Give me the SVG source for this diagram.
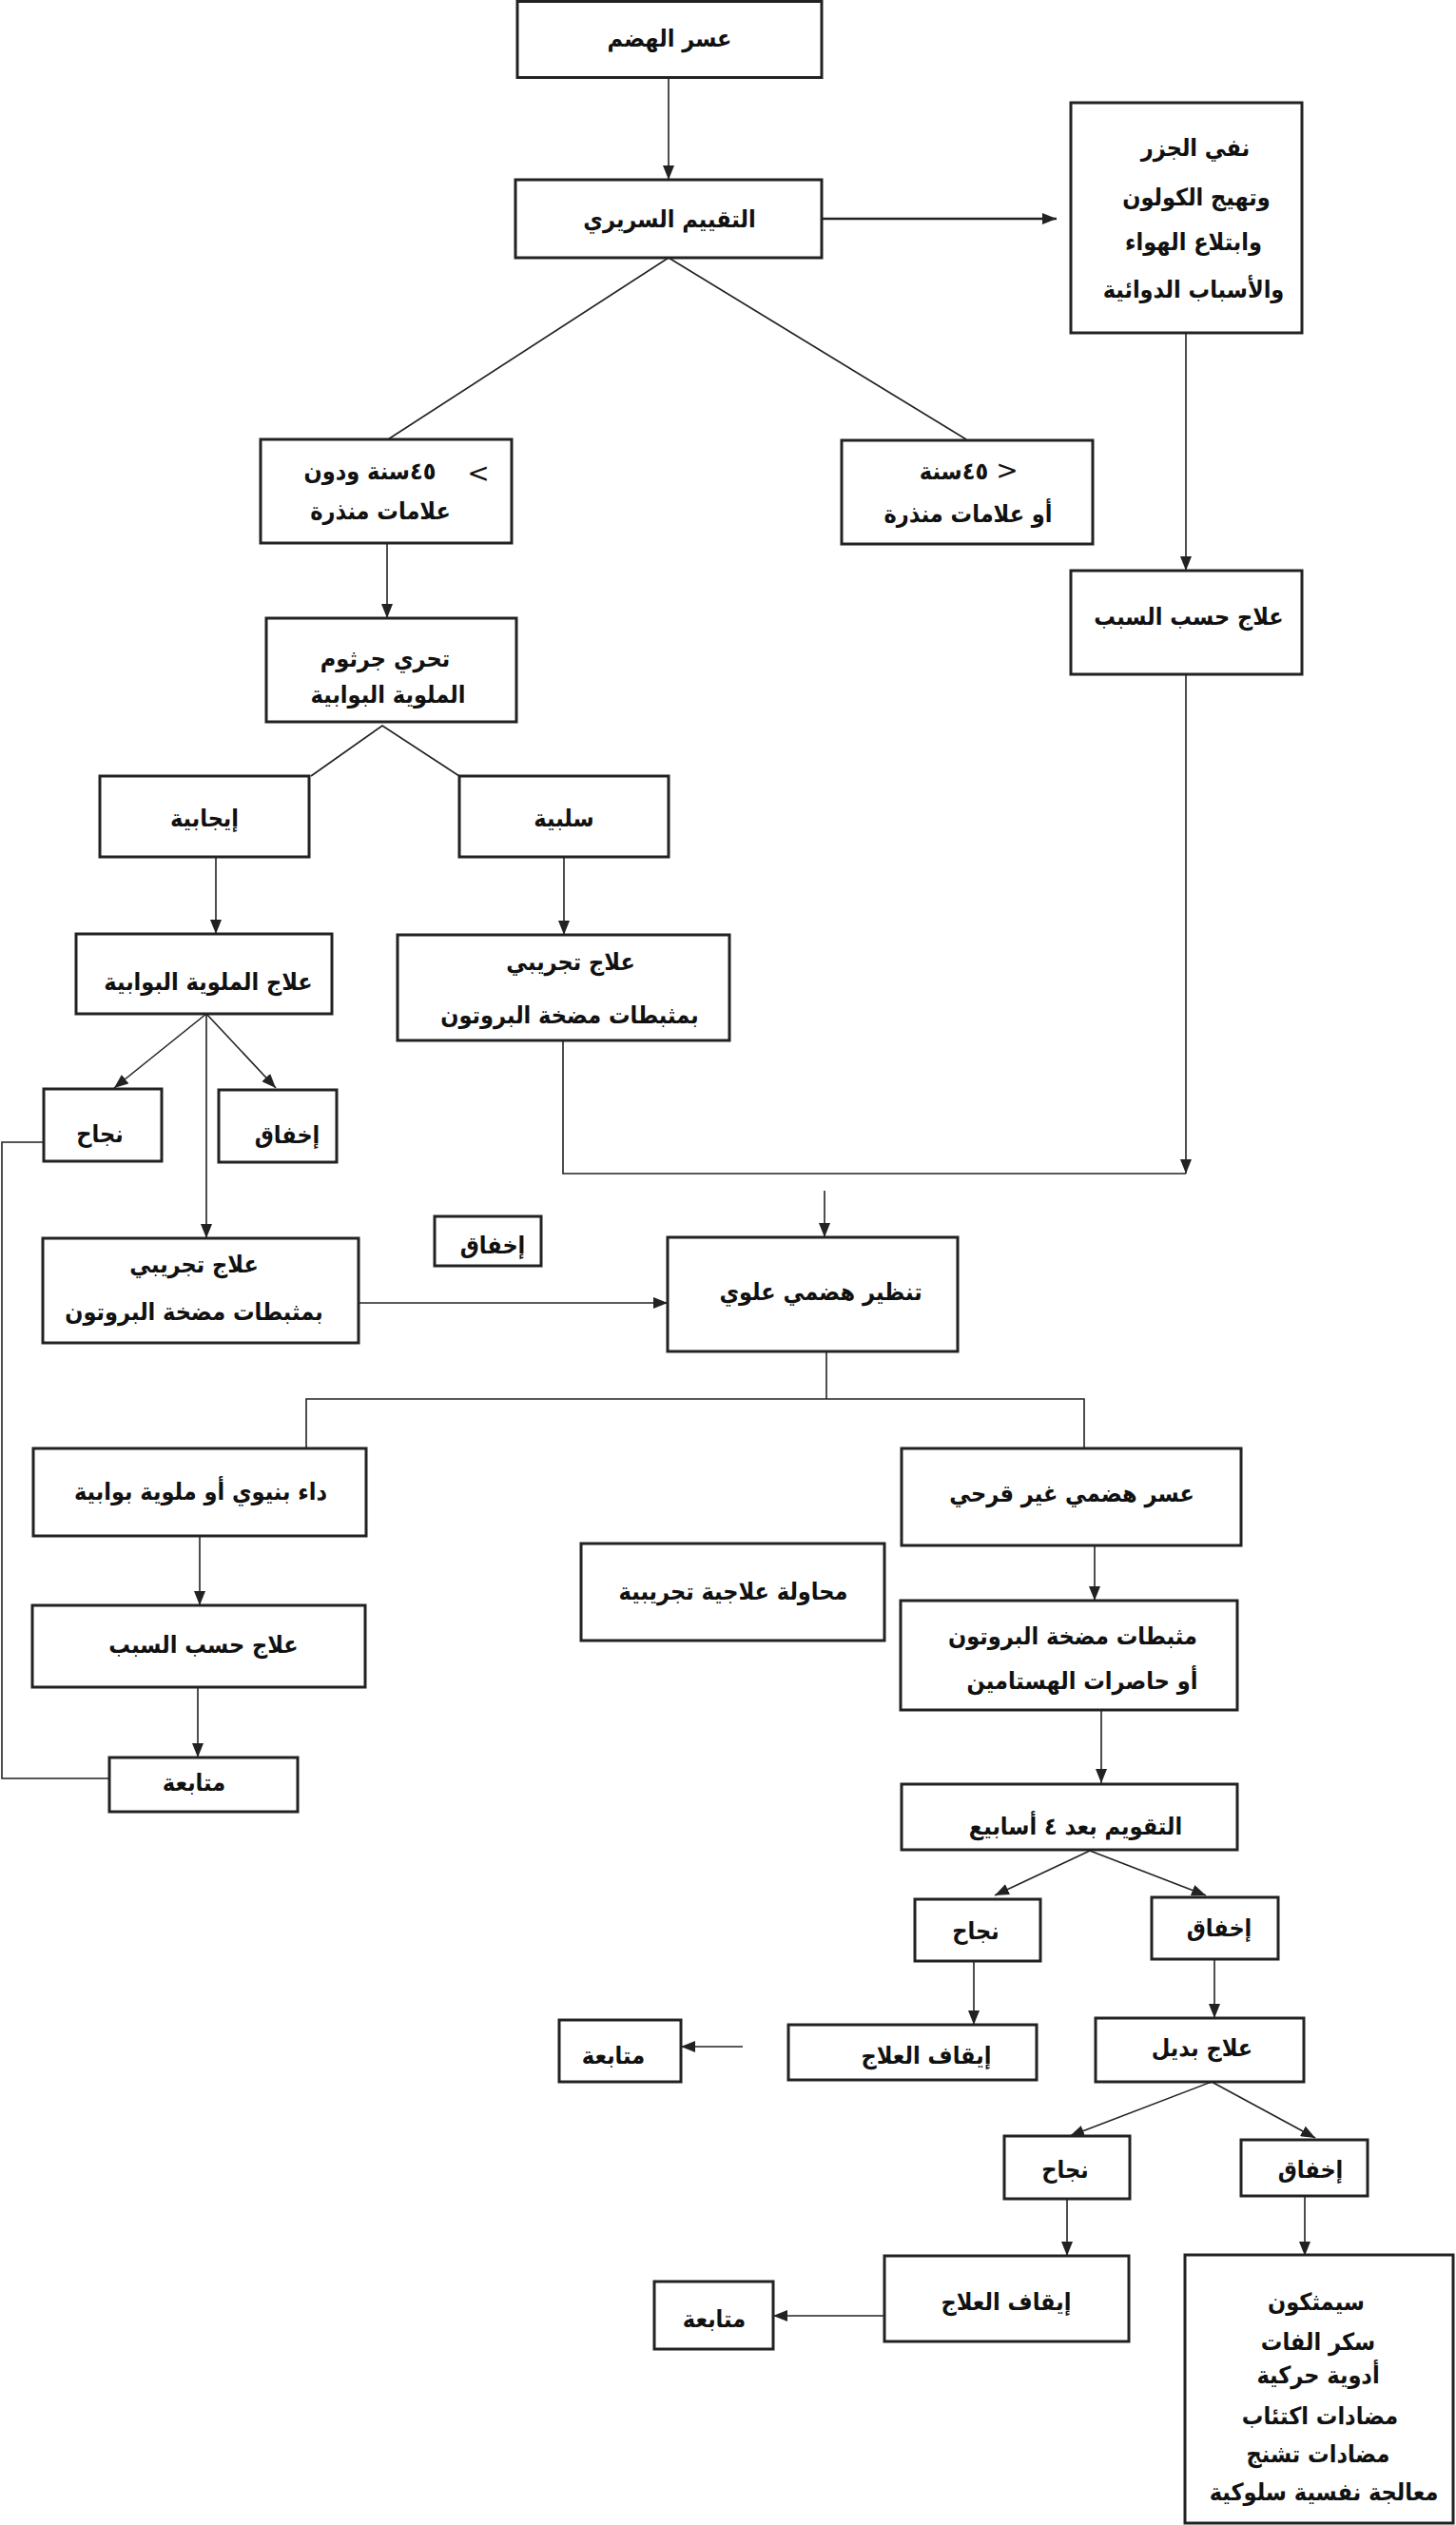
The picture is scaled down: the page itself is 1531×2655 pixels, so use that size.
<svg xmlns="http://www.w3.org/2000/svg" width="1531" height="2655" viewBox="0 0 1531 2655">
<style>
.box{fill:#fff;stroke:#222;stroke-width:3}
.c{fill:none;stroke:#222;stroke-width:1.6}
.t{font-family:"DejaVu Sans Condensed","DejaVu Sans",sans-serif;font-weight:bold;font-size:25px;fill:#111;text-anchor:middle;direction:rtl}
.s{font-family:"DejaVu Sans","Liberation Sans",sans-serif;font-size:28px;fill:#111;text-anchor:middle;direction:ltr}
</style>
<defs>
<marker id="ah" markerUnits="userSpaceOnUse" markerWidth="16" markerHeight="12" refX="15" refY="6" orient="auto">
<path d="M0,0 L15,6 L0,12 z" fill="#222"/>
</marker>
</defs>
<rect width="1531" height="2655" fill="#fff"/>
<g id="connectors">
<line class="c" x1="703" y1="81" x2="703" y2="189" marker-end="url(#ah)"/>
<line class="c" x1="864" y1="230" x2="1111" y2="230" marker-end="url(#ah)" style="stroke-width:2.5"/>
<polyline class="c" points="408,462 703,271 1016,462"/>
<line class="c" x1="1247" y1="350" x2="1247" y2="600" marker-end="url(#ah)"/>
<line class="c" x1="407" y1="571" x2="407" y2="650" marker-end="url(#ah)"/>
<polyline class="c" points="327,816 402,763 483,816"/>
<line class="c" x1="227" y1="901" x2="227" y2="982" marker-end="url(#ah)"/>
<line class="c" x1="593" y1="901" x2="593" y2="983" marker-end="url(#ah)"/>
<line class="c" x1="217" y1="1066" x2="120" y2="1144" marker-end="url(#ah)"/>
<line class="c" x1="217" y1="1066" x2="290" y2="1144" marker-end="url(#ah)"/>
<line class="c" x1="217" y1="1066" x2="217" y2="1302" marker-end="url(#ah)"/>
<line class="c" x1="1247" y1="709" x2="1247" y2="1234" marker-end="url(#ah)"/>
<polyline class="c" points="592,1094 592,1234 1247,1234"/>
<line class="c" x1="867" y1="1252" x2="867" y2="1301" marker-end="url(#ah)"/>
<line class="c" x1="377" y1="1370" x2="702" y2="1370" marker-end="url(#ah)"/>
<polyline class="c" points="46,1201 2,1201 2,1870 115,1870"/>
<polyline class="c" points="869,1421 869,1471"/>
<polyline class="c" points="322,1523 322,1471 1140,1471 1140,1523"/>
<line class="c" x1="210" y1="1615" x2="210" y2="1688" marker-end="url(#ah)"/>
<line class="c" x1="208" y1="1774" x2="208" y2="1848" marker-end="url(#ah)"/>
<line class="c" x1="1151" y1="1625" x2="1151" y2="1683" marker-end="url(#ah)"/>
<line class="c" x1="1158" y1="1798" x2="1158" y2="1875" marker-end="url(#ah)"/>
<line class="c" x1="1146" y1="1946" x2="1046" y2="1993" marker-end="url(#ah)"/>
<line class="c" x1="1146" y1="1946" x2="1268" y2="1993" marker-end="url(#ah)"/>
<line class="c" x1="1024" y1="2062" x2="1024" y2="2129" marker-end="url(#ah)"/>
<line class="c" x1="1277" y1="2060" x2="1277" y2="2122" marker-end="url(#ah)"/>
<line class="c" x1="781" y1="2152" x2="716" y2="2152" marker-end="url(#ah)"/>
<line class="c" x1="1274" y1="2189" x2="1125" y2="2246" marker-end="url(#ah)"/>
<line class="c" x1="1274" y1="2189" x2="1383" y2="2248" marker-end="url(#ah)"/>
<line class="c" x1="1122" y1="2312" x2="1122" y2="2372" marker-end="url(#ah)"/>
<line class="c" x1="1372" y1="2309" x2="1372" y2="2372" marker-end="url(#ah)"/>
<line class="c" x1="930" y1="2435" x2="813" y2="2435" marker-end="url(#ah)"/>
</g>
<g id="n1"><rect class="box" x="544" y="1.5" width="320" height="80"/><text class="t" x="704" y="49">عسر الهضم</text></g>
<g id="n2"><rect class="box" x="542" y="189" width="322" height="82"/><text class="t" x="704" y="239">التقييم السريري</text></g>
<g id="n3"><rect class="box" x="1126" y="108" width="243" height="242"/>
<text class="t" x="1257" y="164">نفي الجزر</text>
<text class="t" x="1258" y="216">وتهيج الكولون</text>
<text class="t" x="1255" y="263">وابتلاع الهواء</text>
<text class="t" x="1255" y="313">والأسباب الدوائية</text></g>
<g id="n4"><rect class="box" x="274" y="462" width="264" height="109"/>
<text class="t" x="389" y="504">٤٥سنة ودون</text><text class="s" x="503" y="507">&lt;</text>
<text class="t" x="400" y="546">علامات منذرة</text></g>
<g id="n5"><rect class="box" x="885" y="463" width="264" height="109"/>
<text class="t" x="1003" y="504">٤٥سنة</text><text class="s" x="1059" y="504">&gt;</text>
<text class="t" x="1018" y="549">أو علامات منذرة</text></g>
<g id="n6"><rect class="box" x="1126" y="600" width="243" height="109"/><text class="t" x="1250" y="657">علاج حسب السبب</text></g>
<g id="n7"><rect class="box" x="280" y="650" width="263" height="109"/>
<text class="t" x="405" y="701">تحري جرثوم</text>
<text class="t" x="408" y="739">الملوية البوابية</text></g>
<g id="n8"><rect class="box" x="105" y="816" width="220" height="85"/><text class="t" x="215" y="869">إيجابية</text></g>
<g id="n9"><rect class="box" x="483" y="816" width="220" height="85"/><text class="t" x="593" y="869">سلبية</text></g>
<g id="n10"><rect class="box" x="80" y="982" width="269" height="84"/><text class="t" x="219" y="1041">علاج الملوية البوابية</text></g>
<g id="n11"><rect class="box" x="418" y="983" width="349" height="111"/>
<text class="t" x="600" y="1020">علاج تجريبي</text>
<text class="t" x="599" y="1076">بمثبطات مضخة البروتون</text></g>
<g id="n12"><rect class="box" x="46" y="1145" width="124" height="76"/><text class="t" x="105" y="1201">نجاح</text></g>
<g id="n13"><rect class="box" x="230" y="1146" width="124" height="76"/><text class="t" x="302" y="1202">إخفاق</text></g>
<g id="n14"><rect class="box" x="457" y="1279" width="112" height="52"/><text class="t" x="518" y="1318">إخفاق</text></g>
<g id="n15"><rect class="box" x="45" y="1302" width="332" height="110"/>
<text class="t" x="204" y="1338">علاج تجريبي</text>
<text class="t" x="204" y="1388">بمثبطات مضخة البروتون</text></g>
<g id="n16"><rect class="box" x="702" y="1301" width="305" height="120"/><text class="t" x="863" y="1367">تنظير  هضمي علوي</text></g>
<g id="n17"><rect class="box" x="35" y="1523" width="350" height="92"/><text class="t" x="211" y="1577">داء بنيوي أو ملوية بوابية</text></g>
<g id="n18"><rect class="box" x="948" y="1523" width="357" height="102"/><text class="t" x="1127" y="1579">عسر هضمي غير قرحي</text></g>
<g id="n19"><rect class="box" x="611" y="1623" width="319" height="102"/><text class="t" x="771" y="1682">محاولة علاجية تجريبية</text></g>
<g id="n20"><rect class="box" x="947" y="1683" width="354" height="115"/>
<text class="t" x="1128" y="1729">مثبطات مضخة البروتون</text>
<text class="t" x="1138" y="1776">أو حاصرات الهستامين</text></g>
<g id="n21"><rect class="box" x="34" y="1688" width="350" height="86"/><text class="t" x="214" y="1738">علاج حسب السبب</text></g>
<g id="n22"><rect class="box" x="115" y="1848" width="198" height="57"/><text class="t" x="204" y="1883">متابعة</text></g>
<g id="n23"><rect class="box" x="948" y="1876" width="353" height="69"/><text class="t" x="1131" y="1929">التقويم بعد  ٤  أسابيع</text></g>
<g id="n24"><rect class="box" x="962" y="1997" width="132" height="65"/><text class="t" x="1026" y="2039">نجاح</text></g>
<g id="n25"><rect class="box" x="1211" y="1995" width="133" height="65"/><text class="t" x="1282" y="2036">إخفاق</text></g>
<g id="n26"><rect class="box" x="829" y="2129" width="261" height="58"/><text class="t" x="974" y="2170">إيقاف العلاج</text></g>
<g id="n27"><rect class="box" x="1152" y="2122" width="219" height="67"/><text class="t" x="1264" y="2162">علاج بديل</text></g>
<g id="n28"><rect class="box" x="588" y="2124" width="128" height="65"/><text class="t" x="645" y="2170">متابعة</text></g>
<g id="n29"><rect class="box" x="1056" y="2246" width="132" height="66"/><text class="t" x="1120" y="2290">نجاح</text></g>
<g id="n30"><rect class="box" x="1305" y="2250" width="133" height="59"/><text class="t" x="1378" y="2290">إخفاق</text></g>
<g id="n31"><rect class="box" x="930" y="2372" width="257" height="90"/><text class="t" x="1058" y="2429">إيقاف العلاج</text></g>
<g id="n32"><rect class="box" x="688" y="2399" width="125" height="71"/><text class="t" x="751" y="2447">متابعة</text></g>
<g id="n33"><rect class="box" x="1246" y="2371" width="282" height="282"/>
<text class="t" x="1384" y="2429">سيمثكون</text>
<text class="t" x="1386" y="2471">سكر الفات</text>
<text class="t" x="1386" y="2506">أدوية حركية</text>
<text class="t" x="1388" y="2549">مضادات اكتئاب</text>
<text class="t" x="1386" y="2589">مضادات تشنج</text>
<text class="t" x="1392" y="2629">معالجة نفسية سلوكية</text></g>
</svg>
